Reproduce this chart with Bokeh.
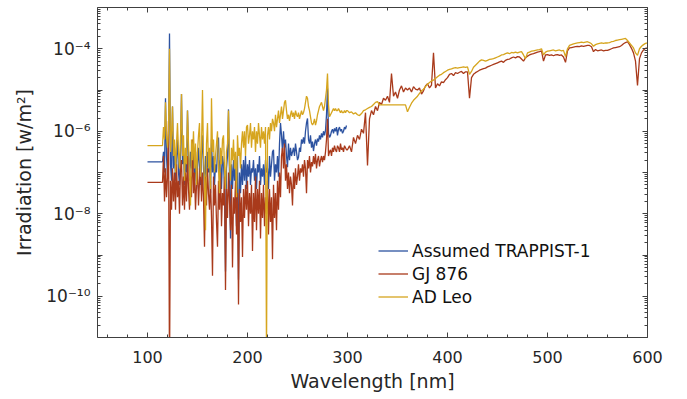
import numpy as np
from bokeh.plotting import figure
from bokeh.models import (FixedTicker, LinearAxis, LogAxis, CustomJSTickFormatter,
                          Legend, LegendItem, Range1d)
from bokeh.embed import file_html
from bokeh.resources import INLINE

FONT = "DejaVu Sans"

# ---------------- data (log10 of irradiation in W/m^2) ----------------
wl_flat = [100, 115]
trappist_flat = [-6.74, -6.74]
gj876_flat = [-7.24, -7.24]
adleo_flat = [-6.35, -6.35]

wl_uv = list(range(116, 300))  # nm, 1 nm step

trappist_uv = [
    -6.5, -7.0, -5.2, -6.6, -7.1, -6.3, -3.63, -6.8, -7.2, -5.4,
    -6.9, -6.4, -7.2, -6.6, -6.2, -7.0, -7.3, -6.5, -5.1, -6.8,
    -6.4, -7.3, -6.7, -7.0, -5.5, -6.6, -7.2, -6.5, -6.9, -6.3,
    -6.7, -7.2, -6.5, -7.4, -6.8, -6.4, -6.9, -7.3, -6.6, -6.1,
    -6.9, -7.4, -6.6, -7.1, -6.5, -7.0, -6.7, -7.5, -6.2, -7.0,
    -6.6, -7.3, -6.8, -7.0, -6.5, -6.15, -7.2, -6.7, -7.4, -6.6,
    -6.8, -7.3, -9.4, -6.9, -6.6, -5.47, -7.1, -8.6, -6.8, -7.4,
    -6.7, -7.2, -6.9, -8.3, -6.6, -9.6, -7.0, -7.5, -6.8, -7.3,
    -6.7, -7.2, -6.6, -7.4, -6.8, -7.1, -6.7, -7.3, -6.9, -7.0,
    -6.7, -7.2, -6.9, -7.4, -6.8, -7.0, -6.6, -7.3, -6.9, -7.1,
    -6.8, -7.3, -6.7, -7.0, -6.9, -7.4, -6.6, -7.1, -6.8, -6.5,
    -6.45, -7.2, -6.8, -7.0, -6.6, -7.1, -6.3, -5.8, -6.1, -6.5,
    -6.0, -6.4, -6.2, -6.6, -6.87, -6.3, -6.7, -6.4, -6.6, -6.5,
    -6.4, -6.6, -6.3, -6.5, -6.7, -6.63, -6.4, -6.5, -6.2, -6.3,
    -6.15, -6.3, -6.0, -5.8, -5.69, -6.2, -6.3, -6.1, -6.4, -6.25,
    -6.48, -6.3, -6.2, -6.35, -6.18, -6.25, -6.1, -6.2, -6.05, -6.15,
    -6.0, -6.1, -5.98, -5.6, -4.96, -6.05, -6.15, -6.1, -6.0, -5.95,
    -6.05, -5.93, -6.0, -5.9, -6.1, -5.95, -5.9, -6.0, -5.95, -6.05,
    -6.0, -5.9, -5.95, -5.86,
]

gj876_uv = [
    -6.6, -7.7, -6.9, -7.6, -7.1, -5.75, -12.0, -7.2, -7.9, -6.9,
    -7.7, -7.0, -7.9, -6.8, -7.6, -7.2, -8.0, -6.9, -6.7, -7.8,
    -7.1, -7.9, -7.0, -7.7, -6.6, -7.4, -7.9, -7.1, -7.6, -6.2,
    -7.5, -7.0, -7.9, -7.3, -6.9, -7.8, -7.2, -6.8, -7.7, -7.0,
    -7.6, -8.8, -7.1, -7.8, -6.9, -7.5, -7.9, -7.2, -8.1, -9.5,
    -7.1, -7.8, -7.3, -8.2, -8.8, -7.2, -7.9, -7.0, -8.3, -7.5,
    -7.8, -7.1, -9.85, -7.4, -8.1, -7.0, -7.7, -8.4, -7.3, -9.3,
    -7.6, -8.0, -7.2, -8.5, -7.5, -10.2, -7.4, -8.2, -7.6, -9.05,
    -7.4, -8.1, -7.3, -7.9, -7.2, -8.3, -7.5, -8.0, -7.3, -8.9,
    -7.5, -8.2, -7.1, -8.4, -7.4, -8.0, -7.2, -8.6, -7.5, -8.1,
    -7.3, -8.3, -7.6, -8.0, -7.2, -8.5, -7.4, -8.2, -7.6, -9.1,
    -7.3, -8.1, -7.5, -8.4, -7.2, -7.9, -7.0, -7.6, -6.6, -6.4,
    -6.9, -6.3, -7.2, -6.8, -7.4, -7.0, -7.5, -7.1, -7.3, -7.8,
    -7.0, -7.4, -6.9, -7.3, -7.1, -6.8, -7.2, -6.9, -7.0, -6.8,
    -7.1, -6.7, -6.9, -7.5, -6.7, -6.9, -6.6, -7.0, -6.75, -6.85,
    -6.6, -6.8, -6.55, -6.9, -6.7, -6.6, -6.85, -6.7, -6.6, -6.75,
    -6.6, -6.7, -6.5, -6.2, -5.7, -6.6, -6.5, -6.45, -6.6, -6.4,
    -6.5, -6.35, -6.45, -6.5, -6.35, -6.4, -6.5, -6.3, -6.45, -6.4,
    -6.5, -6.35, -6.4, -6.45,
]

adleo_uv = [
    -5.9, -6.2, -5.3, -6.1, -6.4, -6.0, -4.0, -6.5, -6.1, -5.4,
    -6.6, -6.2, -7.0, -6.3, -5.8, -6.5, -6.9, -6.2, -5.1, -6.6,
    -6.1, -7.2, -6.4, -6.8, -5.5, -6.3, -7.0, -7.8, -6.2, -6.7,
    -6.0, -6.9, -6.3, -7.3, -6.5, -6.1, -5.8, -7.1, -6.4, -5.0,
    -6.6, -7.2, -8.4, -6.3, -5.8, -6.9, -6.4, -7.4, -5.2, -6.5,
    -6.2, -7.0, -6.6, -6.3, -6.0, -6.9, -7.5, -6.4, -6.8, -6.2,
    -6.1, -6.9, -7.4, -6.5, -6.3, -5.5, -6.8, -7.2, -6.4, -6.7,
    -6.2, -6.9, -6.5, -7.6, -6.1, -6.6, -6.4, -6.9, -6.3, -6.0,
    -6.4, -6.0, -6.6, -5.9, -5.85, -6.3, -6.1, -5.8, -6.4, -6.0,
    -6.2, -5.9, -6.5, -6.0, -6.3, -5.8, -6.1, -6.4, -5.9, -6.2,
    -6.0, -6.3, -5.9, -11.5, -6.1, -5.9, -6.2, -5.8, -6.0, -5.7,
    -5.8, -6.0, -5.6, -5.9, -5.7, -5.5, -5.8, -5.6, -5.4, -5.7,
    -5.5, -5.3, -5.25, -5.5, -5.7, -5.6, -5.75, -5.6, -5.5, -5.65,
    -5.55, -5.7, -5.5, -5.6, -5.65, -5.55, -5.7, -5.6, -5.5, -5.6,
    -5.55, -5.45, -5.3, -5.15, -5.2, -5.4, -5.5, -5.65, -5.8, -5.85,
    -5.8, -5.7, -5.85, -5.75, -5.6, -5.5, -5.4, -5.35, -5.3, -5.4,
    -5.5, -5.4, -5.2, -5.0, -4.6, -5.35, -5.65, -5.6, -5.55, -5.5,
    -5.45, -5.5, -5.45, -5.5, -5.5, -5.45, -5.5, -5.55, -5.5, -5.55,
    -5.55, -5.5, -5.55, -5.5,
]

wl_vis = list(range(300, 601, 2))  # nm, 2 nm step

gj876_vis = [
    -6.45, -6.35, -6.5, -6.15, -6.3, -6.1, -6.2, -5.95, -6.05, -5.55,
    -6.83, -5.7, -5.5, -5.6, -5.4, -5.5, -5.3, -5.35, -5.2, -5.25,
    -5.15, -5.3, -4.6, -5.15, -5.05, -5.2, -5.0, -4.9, -5.05, -4.95,
    -5.0, -4.95, -5.05, -4.92, -4.98, -5.0, -4.95, -5.1, -5.02, -4.9,
    -4.85, -4.95, -4.88, -4.1, -4.95, -4.85, -4.9, -4.8, -4.82, -4.75,
    -4.7, -4.62, -4.6, -4.65, -4.58, -4.6, -4.57, -4.55, -4.6, -4.56,
    -4.56, -5.2, -4.7, -4.62, -4.58, -4.55, -4.52, -4.5, -4.48, -4.47,
    -4.44, -4.42, -4.4, -4.38, -4.36, -4.34, -4.32, -4.3, -4.33, -4.28,
    -4.26, -4.25, -4.22, -4.2, -4.22, -4.19, -4.2, -4.25, -4.3, -4.22,
    -4.18, -4.15, -4.13, -4.12, -4.1, -4.08, -4.07, -4.05, -4.3, -4.15,
    -4.14, -4.16, -4.15, -4.17, -4.15, -4.14, -4.16, -4.15, -4.2, -4.33,
    -4.05, -3.98, -3.97, -3.96, -3.95, -3.94, -3.95, -3.93, -3.94, -3.93,
    -3.92, -3.92, -3.95, -4.07, -4.02, -4.05, -4.04, -4.03, -4.05, -4.04,
    -4.04, -4.02, -4.0, -3.98, -3.97, -3.96, -3.95, -3.92, -3.88, -3.85,
    -3.83, -3.9, -3.99, -4.1, -4.3, -4.89, -4.24, -4.1, -4.03, -3.99,
    -3.98,
]

adleo_vis = [
    -5.5, -5.55, -5.53, -5.58, -5.55, -5.6, -5.62, -5.57, -5.5, -5.48,
    -5.45, -5.42, -5.4, -5.35, -5.3, -5.28, -5.36, -5.36, -5.36, -5.36,
    -5.36, -5.36, -5.36, -5.36, -5.36, -5.36, -5.36, -5.36, -5.36, -5.36,
    -5.53, -5.42, -5.32, -5.25, -5.2, -5.15, -5.08, -5.02, -4.98, -4.92,
    -4.86, -4.82, -4.78, -4.76, -4.72, -4.68, -4.64, -4.62, -4.58, -4.55,
    -4.52, -4.5, -4.49, -4.47, -4.46, -4.47, -4.46, -4.45, -4.44, -4.45,
    -4.44, -4.62, -4.55, -4.45, -4.4, -4.35, -4.3, -4.27, -4.28, -4.3,
    -4.28, -4.26, -4.25, -4.24, -4.22, -4.2, -4.18, -4.15, -4.14, -4.12,
    -4.1, -4.12, -4.09, -4.1, -4.08, -4.1, -4.08, -4.07, -4.15, -4.24,
    -4.1, -4.08, -4.06, -4.05, -4.04, -4.03, -4.02, -4.0, -4.15, -4.08,
    -4.06, -4.05, -4.04, -4.03, -4.05, -4.04, -4.03, -4.05, -4.04, -4.19,
    -4.0, -3.92, -3.9, -3.88, -3.87, -3.86, -3.85, -3.84, -3.85, -3.84,
    -3.83, -3.85, -3.88, -3.94, -3.9, -3.88, -3.87, -3.86, -3.87, -3.86,
    -3.86, -3.85, -3.83, -3.82, -3.8, -3.79, -3.78, -3.77, -3.76, -3.75,
    -3.8, -3.86, -3.92, -3.98, -4.1, -4.16, -4.0, -3.94, -3.9, -3.87,
    -3.86,
]

assert len(trappist_uv) == len(wl_uv), len(trappist_uv)
assert len(gj876_uv) == len(wl_uv), len(gj876_uv)
assert len(adleo_uv) == len(wl_uv), len(adleo_uv)
assert len(gj876_vis) == len(wl_vis), len(gj876_vis)
assert len(adleo_vis) == len(wl_vis), len(adleo_vis)

labels = ["Assumed TRAPPIST-1", "GJ 876", "AD Leo"]
colors = ["#2C52A0", "#A93A1B", "#D6A51E"]

x_ticks = [100, 200, 300, 400, 500, 600]
x_minor = list(range(60, 600, 20))
y_exps = list(range(-11, -2))

# ---------------- figure ----------------
p = figure(width=687, height=399, x_range=Range1d(50, 600),
           y_range=Range1d(1e-11, 1e-3), y_axis_type="log",
           output_backend="svg", toolbar_location=None,
           min_border_left=97, min_border_right=40,
           min_border_top=7, min_border_bottom=62)
p.grid.visible = False
p.outline_line_color = None
p.background_fill_color = "white"
p.border_fill_color = "white"

series = [
    (wl_flat + wl_uv, trappist_flat + trappist_uv),
    (wl_flat + wl_uv + wl_vis, gj876_flat + gj876_uv + gj876_vis),
    (wl_flat + wl_uv + wl_vis, adleo_flat + adleo_uv + adleo_vis),
]
renderers = []
for (xs, logs), c in zip(series, colors):
    r = p.line(xs, list(10.0 ** np.array(logs)), line_color=c, line_width=1.3)
    renderers.append(r)

xt = FixedTicker(ticks=x_ticks, minor_ticks=x_minor)
yt = FixedTicker(ticks=[10.0 ** e for e in y_exps],
                 minor_ticks=[k * 10.0 ** e for e in range(-11, -3) for k in range(2, 10)])

yfmt = CustomJSTickFormatter(code="""
const e = Math.round(Math.log10(tick));
if (e % 2 != 0) { return ""; }
const sup = {"-": "\u207b", "0": "\u2070", "1": "\u00b9", "2": "\u00b2", "3": "\u00b3",
             "4": "\u2074", "5": "\u2075", "6": "\u2076", "7": "\u2077", "8": "\u2078", "9": "\u2079"};
return "10" + String(e).split("").map(c => sup[c]).join("");
""")
blank = CustomJSTickFormatter(code="return '';")

AX = "#404040"
TXT = "#262626"


def style(ax):
    ax.axis_line_color = AX
    ax.major_tick_line_color = AX
    ax.minor_tick_line_color = AX
    ax.major_tick_in = 5
    ax.major_tick_out = 0
    ax.minor_tick_in = 3
    ax.minor_tick_out = 0
    ax.major_label_text_font = FONT
    ax.major_label_text_color = TXT
    ax.axis_label_text_font = FONT
    ax.axis_label_text_color = TXT
    ax.axis_label_text_font_style = "normal"


xa = p.xaxis[0]
style(xa)
xa.ticker = xt
xa.major_label_text_font_size = "16px"
xa.major_label_standoff = 13
xa.axis_label = "Wavelength [nm]"
xa.axis_label_text_font_size = "19px"
xa.axis_label_standoff = 4

ya = p.yaxis[0]
style(ya)
ya.ticker = yt
ya.formatter = yfmt
ya.major_label_text_font_size = "17px"
ya.major_label_standoff = 7
ya.axis_label = "Irradiation [w/m\u00b2]"
ya.axis_label_text_font_size = "19px"
ya.axis_label_standoff = 8

top = LinearAxis(ticker=xt, formatter=blank)
style(top)
top.major_label_text_font_size = "0px"
top.major_label_standoff = 0
p.add_layout(top, "above")

right = LogAxis(ticker=yt, formatter=blank)
style(right)
right.major_label_text_font_size = "0px"
right.major_label_standoff = 0
p.add_layout(right, "right")

legend = Legend(items=[LegendItem(label=l, renderers=[r]) for l, r in zip(labels, renderers)],
                location=(281, 29), padding=0, margin=0, spacing=0,
                label_height=23, glyph_height=23, glyph_width=30, label_standoff=4,
                border_line_alpha=0, background_fill_alpha=0,
                label_text_font=FONT, label_text_font_size="17px",
                label_text_color="#111111")
p.add_layout(legend)

open("out.html", "w").write(file_html(p, INLINE))
